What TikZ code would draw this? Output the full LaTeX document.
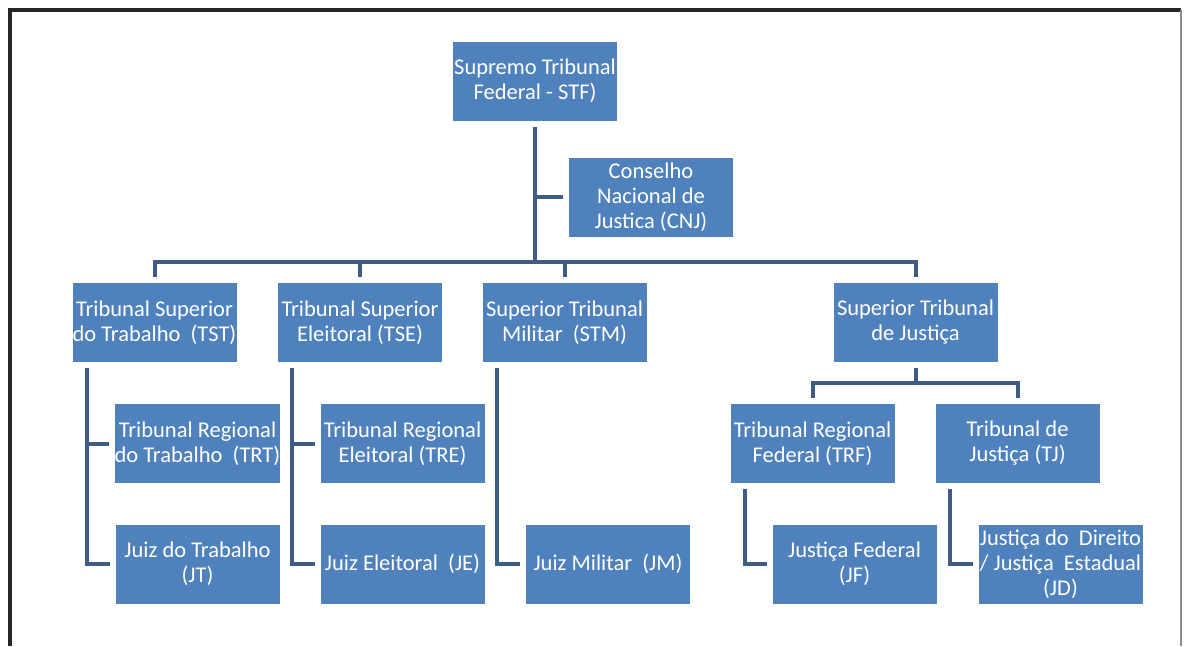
\documentclass[tikz,border=0pt]{standalone}
\usepackage{fontspec}
\setmainfont{Carlito}
\usepackage{xcolor}
\usepackage{tikz}
\definecolor{courtcolor}{RGB}{79, 129, 189}
\definecolor{linkcolor}{RGB}{62, 92, 132}
\usetikzlibrary{calc}

\begin{document}
\begin{tikzpicture}[
    x=1pt, y=-1pt,
    courtbox/.style={rectangle, fill=courtcolor, text=white, minimum width=164pt, minimum height=79pt, inner sep=0pt, outer sep=6pt, align=center, font=\fontsize{22.5}{25}\selectfont},
    linkline/.style={draw=linkcolor, line width=4pt}
]
    \useasboundingbox (0,0) rectangle (1184,646);
    \draw[line width=4pt, black!85] (10,646) -- (10,10) -- (1181,10);
    \draw[line width=2pt, black!45] (1181,10) -- (1181,646);

    \node[courtbox] (stf) at (535, 81) {Supremo Tribunal\\Federal - STF)};
    \node[courtbox] (cnj) at (651, 197) {Conselho\\Nacional de\\Justica (CNJ)};

    \node[courtbox] (tst) at (154.5, 322.5) {Tribunal Superior\\do Trabalho\ \ (TST)};
    \node[courtbox] (tse) at (360, 322.5) {Tribunal Superior\\Eleitoral (TSE)};
    \node[courtbox] (stm) at (564.5, 322.5) {Superior Tribunal\\Militar\ \ (STM)};
    \node[courtbox] (stj) at (915.5, 322.5) {Superior Tribunal\\de Justiça};

    \node[courtbox] (trt) at (197.5, 443.5) {Tribunal Regional\\do Trabalho\ \ (TRT)};
    \node[courtbox] (tre) at (402.5, 443.5) {Tribunal Regional\\Eleitoral (TRE)};
    \node[courtbox] (trf) at (812.5, 443.5) {Tribunal Regional\\Federal (TRF)};
    \node[courtbox] (tj) at (1017.5, 443.5) {Tribunal de\\Justiça (TJ)};

    \node[courtbox] (jt) at (197.5, 564) {Juiz do Trabalho\\(JT)};
    \node[courtbox] (je) at (402.5, 564) {Juiz Eleitoral\ \ (JE)};
    \node[courtbox] (jm) at (608, 564) {Juiz Militar\ \ (JM)};
    \node[courtbox] (jf) at (854.5, 564) {Justiça Federal\\(JF)};
    \node[courtbox] (jd) at (1060.5, 564) {Justiça do\ \ Direito\\/ Justiça\ \ Estadual\\(JD)};

    \coordinate (mbar) at (535, 262);
    \coordinate (sbar) at (915.5, 383);

    \draw[linkline] (stf.south) -- (mbar);
    \draw[linkline] (cnj.west) -- (cnj.west -| stf.south);
    \draw[linkline] (tst.north) |- (mbar) -| (stj.north);
    \draw[linkline] (tse.north) -- (tse.north |- mbar);
    \draw[linkline] (stm.north) -- (stm.north |- mbar);

    \draw[linkline] (stj.south) -- (sbar);
    \draw[linkline] (trf.north) |- (sbar) -| (tj.north);

    \draw[linkline] ([xshift=20pt]tst.south west) |- (trt.west);
    \draw[linkline] ([xshift=20pt]tst.south west) |- (jt.west);
    \draw[linkline] ([xshift=20pt]tse.south west) |- (tre.west);
    \draw[linkline] ([xshift=20pt]tse.south west) |- (je.west);
    \draw[linkline] ([xshift=20pt]stm.south west) |- (jm.west);
    \draw[linkline] ([xshift=20pt]trf.south west) |- (jf.west);
    \draw[linkline] ([xshift=20pt]tj.south west) |- (jd.west);
\end{tikzpicture}
\end{document}
